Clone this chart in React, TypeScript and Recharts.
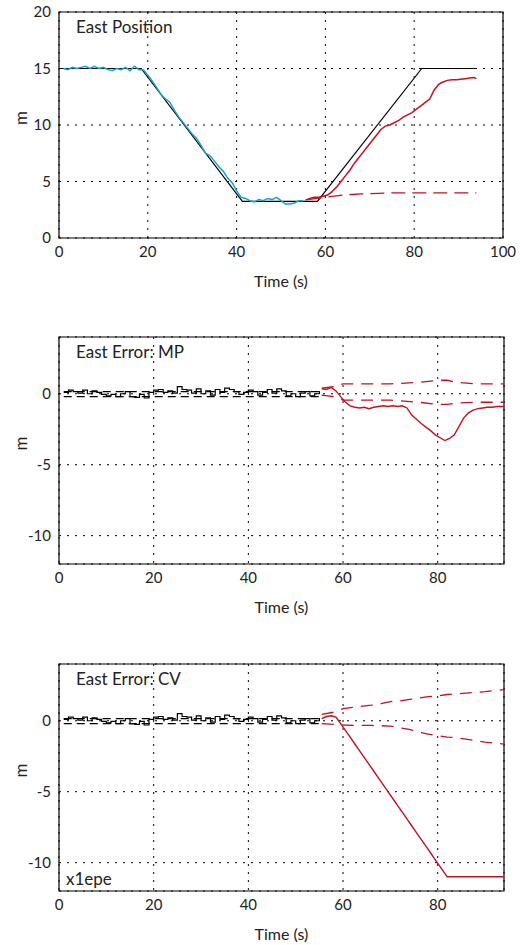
import React from 'react';
import { LineChart, Line, XAxis, YAxis, CartesianGrid, ReferenceArea, Label } from 'recharts';

// ---------- Panel 1: East Position ----------
const truthTime = [0, 18.5, 41.3, 58.2, 81.7, 94];
const truthEast = [15, 15, 3.25, 3.25, 15, 15];

const measTime = [1, 2, 3, 4, 5, 6, 7, 8, 9, 10, 11, 12, 13, 14, 15, 16, 17, 18, 19, 20, 21, 22, 23, 24, 25, 26, 27, 28, 29, 30, 31, 32, 33, 34, 35, 36, 37, 38, 39, 40, 41, 42, 43, 44, 45, 46, 47, 48, 49, 50, 51, 52, 53, 54, 55];
const measEast = [15.0, 14.9, 15.1, 15.0, 15.1, 15.2, 15.0, 15.2, 15.0, 15.1, 14.9, 14.8, 15.0, 14.9, 15.1, 14.8, 15.2, 14.9, 14.9, 14.4, 13.9, 13.3, 12.7, 12.3, 12.0, 11.3, 10.7, 10.2, 9.7, 9.2, 8.8, 8.2, 7.5, 7.3, 6.8, 6.3, 5.9, 5.3, 4.9, 4.2, 3.6, 3.5, 3.3, 3.2, 3.4, 3.3, 3.5, 3.4, 3.6, 3.3, 3.0, 3.0, 3.1, 3.3, 3.3];

const estTime = [55.5, 56.5, 57.5, 58.5, 59.5, 60.5, 61.5, 62.5, 63.5, 64.5, 65.5, 66.5, 67.5, 68.5, 69.5, 70.5, 71.5, 72.5, 73.5, 74.5, 75.5, 76.5, 77.5, 78.5, 79.5, 80.5, 81.5, 82.5, 83.5, 84.5, 85.5, 86.5, 87.5, 88.5, 89.5, 90.5, 91.5, 92.5, 93.5, 94];
const estEast = [3.35, 3.5, 3.6, 3.6, 3.7, 3.8, 4.1, 4.5, 5.0, 5.5, 6.0, 6.6, 7.1, 7.6, 8.1, 8.6, 9.1, 9.6, 9.9, 10.0, 10.2, 10.4, 10.7, 10.9, 11.1, 11.4, 11.7, 12.0, 12.3, 13.1, 13.6, 13.8, 13.95, 14.0, 14.0, 14.05, 14.1, 14.15, 14.2, 14.1];

const altTime = [56, 58, 60, 62, 64, 66, 68, 72, 76, 94];
const altEast = [3.4, 3.5, 3.6, 3.7, 3.8, 3.85, 3.9, 3.95, 4.0, 4.0];

// ---------- Panels 2 & 3: errors, before 55 s (black) ----------
const errTime = measTime;
const errBlack = [0.1, 0.25, 0.15, 0.05, 0.25, 0.0, 0.2, 0.1, -0.05, -0.15, -0.05, -0.2, 0.0, 0.15, -0.2, -0.25, -0.05, -0.3, 0.1, 0.25, 0.3, 0.1, 0.2, 0.05, 0.5, 0.3, 0.25, 0.05, 0.35, 0.0, 0.2, -0.1, 0.3, 0.1, 0.4, 0.3, 0.15, -0.05, 0.1, 0.25, 0.15, -0.1, 0.1, 0.3, 0.05, 0.35, 0.2, -0.15, 0.0, -0.2, 0.05, 0.15, -0.15, 0.0, 0.2];
const boundTime = [1, 55];
const boundUpper = [0.15, 0.15];
const boundLower = [-0.2, -0.2];

// ---------- Panel 2: MP error ----------
const mpTime = estTime;
const mpErr = [0.35, 0.3, 0.45, 0.2, -0.2, -0.6, -0.85, -0.95, -1.0, -0.95, -1.05, -0.95, -0.9, -0.85, -0.9, -0.85, -0.9, -0.85, -1.0, -1.5, -1.8, -2.1, -2.35, -2.6, -2.9, -3.1, -3.3, -3.15, -2.9, -2.3, -1.7, -1.35, -1.15, -1.05, -1.0, -0.95, -0.95, -0.9, -0.9, -0.9];
const mpBoundTime = [55.5, 58, 60, 70, 76, 80, 82, 84, 88, 94];
const mpUpper = [0.4, 0.5, 0.7, 0.7, 0.8, 0.95, 0.95, 0.8, 0.7, 0.7];
const mpLower = [-0.1, -0.2, -0.45, -0.45, -0.6, -0.75, -0.75, -0.65, -0.6, -0.6];

// ---------- Panel 3: CV error ----------
const cvTime = [55.5, 56.5, 57.5, 58.5, 59.5, 60.5, 61.5, 62.5, 63.5, 64.5, 65.5, 66.5, 67.5, 68.5, 69.5, 70.5, 71.5, 72.5, 73.5, 74.5, 75.5, 76.5, 77.5, 78.5, 79.5, 80.5, 81.5, 82, 94];
const cvErr = [0.15, 0.3, 0.35, 0.25, -0.2, -0.68, -1.16, -1.64, -2.12, -2.6, -3.08, -3.56, -4.04, -4.52, -5.0, -5.48, -5.96, -6.44, -6.92, -7.4, -7.88, -8.36, -8.84, -9.32, -9.8, -10.28, -10.76, -11.0, -11.0];
const cvBoundTime = [55.5, 58, 60, 62, 66, 68, 70, 72, 74, 76, 78, 80, 82, 84, 86, 88, 90, 94];
const cvUpper = [0.45, 0.6, 0.85, 0.95, 1.1, 1.2, 1.35, 1.4, 1.5, 1.6, 1.7, 1.75, 1.85, 1.9, 1.95, 2.0, 2.05, 2.2];
const cvLower = [-0.2, -0.25, -0.3, -0.32, -0.33, -0.35, -0.38, -0.5, -0.6, -0.8, -0.95, -1.05, -1.15, -1.2, -1.3, -1.4, -1.5, -1.65];

const xTicks1 = [0, 20, 40, 60, 80, 100];
const xTicks2 = [0, 20, 40, 60, 80];
const yTicks1 = [0, 5, 10, 15, 20];
const yTicks2 = [-10, -5, 0];

const zip = (xs: number[], ys: number[]) => xs.map((x, i) => ({ x, y: ys[i] }));

const FONT = "Lato, 'DejaVu Sans', sans-serif";
const RED = '#c1121f';
const CYAN = '#1aa3c9';

type Series = { data: { x: number; y: number }[]; color: string; dash?: string; step?: boolean; width?: number };

type PanelProps = {
  top: number;
  height: number;
  plotHeight: number;
  xMax: number;
  xTicks: number[];
  yDomain: [number, number];
  yTicks: number[];
  series: Series[];
  title: string;
  note?: string;
};

function Panel({ top, height, plotHeight, xMax, xTicks, yDomain, yTicks, series, title, note }: PanelProps) {
  const mTop = 12;
  const axisH = 50;
  const mBottom = height - mTop - plotHeight - axisH;
  const right = xMax === 100 ? 17 : 16;
  return (
    <div style={{ position: 'absolute', left: 0, top, width: 520, height }}>
      <LineChart width={520} height={height} margin={{ top: mTop, right, bottom: mBottom, left: 0 }}>
        <CartesianGrid stroke="#000" strokeDasharray="2 6" strokeWidth={1} />
        <XAxis
          type="number"
          dataKey="x"
          domain={[0, xMax]}
          ticks={xTicks}
          allowDataOverflow
          height={axisH}
          axisLine={false}
          tickLine={false}
          tick={{ fill: '#222', fontSize: 15, fontFamily: FONT }}
          tickSize={6}
          tickMargin={2}
        >
          <Label value="Time (s)" position="insideBottom" offset={1} style={{ fill: '#222', fontSize: 16, fontFamily: FONT }} />
        </XAxis>
        <YAxis
          type="number"
          domain={yDomain}
          ticks={yTicks}
          allowDataOverflow
          width={59}
          axisLine={false}
          tickLine={false}
          tick={{ fill: '#222', fontSize: 15, fontFamily: FONT }}
          tickSize={6}
          tickMargin={2}
        >
          <Label value="m" angle={-90} position="insideLeft" offset={21} style={{ fill: '#222', fontSize: 17, fontFamily: FONT }} />
        </YAxis>
        {series.map((s, i) => (
          <Line
            key={i}
            data={s.data}
            dataKey="y"
            type={s.step ? 'stepAfter' : 'linear'}
            stroke={s.color}
            strokeWidth={s.width ?? 1.3}
            strokeDasharray={s.dash}
            dot={false}
            activeDot={false}
            isAnimationActive={false}
          />
        ))}
        <ReferenceArea x1={0} x2={xMax} y1={yDomain[0]} y2={yDomain[1]} fill="none" stroke="#000" strokeWidth={1.2} />
      </LineChart>
      <div style={{ position: 'absolute', left: 76, top: mTop + 4, fontFamily: FONT, fontSize: 17, color: '#222' }}>{title}</div>
      {note ? (
        <div style={{ position: 'absolute', left: 66, top: mTop + plotHeight - 23, fontFamily: FONT, fontSize: 17, color: '#222' }}>{note}</div>
      ) : null}
    </div>
  );
}

export default function App() {
  const p1: Series[] = [
    { data: zip(truthTime, truthEast), color: '#000', width: 1.2 },
    { data: zip(measTime, measEast), color: CYAN, width: 1.5 },
    { data: zip(altTime, altEast), color: RED, dash: '14 7' },
    { data: zip(estTime, estEast), color: RED, width: 1.5 },
  ];
  const blackSeries: Series[] = [
    { data: zip(boundTime, boundUpper), color: '#000', dash: '8 5', width: 1.1 },
    { data: zip(boundTime, boundLower), color: '#000', dash: '8 5', width: 1.1 },
    { data: zip(errTime, errBlack), color: '#000', step: true, width: 1.2 },
  ];
  const p2: Series[] = [
    ...blackSeries,
    { data: zip(mpBoundTime, mpUpper), color: RED, dash: '12 8' },
    { data: zip(mpBoundTime, mpLower), color: RED, dash: '12 8' },
    { data: zip(mpTime, mpErr), color: RED, width: 1.4 },
  ];
  const p3: Series[] = [
    ...blackSeries,
    { data: zip(cvBoundTime, cvUpper), color: RED, dash: '12 8' },
    { data: zip(cvBoundTime, cvLower), color: RED, dash: '12 8' },
    { data: zip(cvTime, cvErr), color: RED, width: 1.4 },
  ];
  return (
    <div style={{ position: 'absolute', left: 0, top: 0, width: 520, height: 945, background: '#fff' }}>
      <Panel top={0} height={300} plotHeight={226} xMax={100} xTicks={xTicks1} yDomain={[0, 20]} yTicks={yTicks1} series={p1} title="East Position" />
      <Panel top={325} height={300} plotHeight={227} xMax={94} xTicks={xTicks2} yDomain={[-12, 4]} yTicks={yTicks2} series={p2} title="East Error: MP" />
      <Panel top={652} height={293} plotHeight={227} xMax={94} xTicks={xTicks2} yDomain={[-12, 4]} yTicks={yTicks2} series={p3} title="East Error: CV" note="x1epe" />
    </div>
  );
}
